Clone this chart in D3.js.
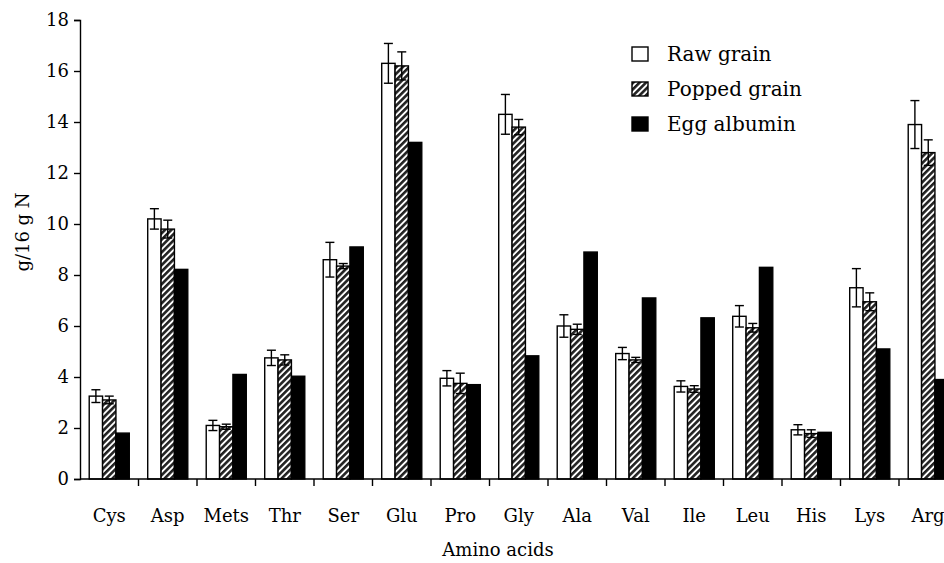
<!DOCTYPE html>
<html>
<head>
<meta charset="utf-8">
<script src="https://cdn.jsdelivr.net/npm/d3@7"></script>
<style>
  body { margin: 0; background: #fff; }
  svg { display: block; }
  svg text { font-family: "DejaVu Serif", "Liberation Serif", serif; fill: #000; }
</style>
</head>
<body>
<div id="chart"></div>
<script>
'use strict';

var categories = ['Cys', 'Asp', 'Mets', 'Thr', 'Ser', 'Glu', 'Pro', 'Gly', 'Ala', 'Val', 'Ile', 'Leu', 'His', 'Lys', 'Arg'];
var seriesNames = ['Raw grain', 'Popped grain', 'Egg albumin'];
var rawGrain    = [3.25, 10.2, 2.1, 4.75, 8.6, 16.3, 3.95, 14.3, 6.0, 4.92, 3.63, 6.38, 1.93, 7.5, 13.9];
var rawErr      = [0.25, 0.4, 0.2, 0.3, 0.68, 0.78, 0.3, 0.78, 0.44, 0.24, 0.22, 0.42, 0.2, 0.75, 0.94];
var poppedGrain = [3.1, 9.8, 2.05, 4.67, 8.35, 16.2, 3.75, 13.8, 5.87, 4.67, 3.53, 5.93, 1.78, 6.95, 12.8];
var poppedErr   = [0.15, 0.35, 0.1, 0.2, 0.1, 0.55, 0.4, 0.3, 0.2, 0.1, 0.13, 0.17, 0.15, 0.35, 0.5];
var eggAlbumin  = [1.8, 8.22, 4.1, 4.03, 9.1, 13.2, 3.7, 4.83, 8.9, 7.1, 6.32, 8.3, 1.83, 5.1, 3.9];
var yTicks = [0, 2, 4, 6, 8, 10, 12, 14, 16, 18];

var width = 944, height = 563;
var fontFam = '"DejaVu Serif", "Liberation Serif", serif';
var svg = d3.select('#chart').append('svg')
  .attr('width', width)
  .attr('height', height)
  .attr('font-family', fontFam);

// hatch pattern for popped grain
var defs = svg.append('defs');
var pat = defs.append('pattern')
  .attr('id', 'hatch')
  .attr('patternUnits', 'userSpaceOnUse')
  .attr('width', 4.5)
  .attr('height', 4.5)
  .attr('patternTransform', 'rotate(45)');
pat.append('rect').attr('width', 4.5).attr('height', 4.5).attr('fill', '#fff');
pat.append('rect').attr('width', 2.6).attr('height', 4.5).attr('fill', '#222');

var x = d3.scaleBand().domain(categories).range([80, 80 + 58.5 * categories.length]).padding(0);
var x1 = d3.scaleBand().domain(seriesNames).range([0, x.bandwidth()]).paddingInner(0).paddingOuter(0.69);
var y = d3.scaleLinear().domain([0, 18]).range([479, 20]);

var fills = { 'Raw grain': '#fff', 'Popped grain': 'url(#hatch)', 'Egg albumin': '#000' };

var rows = categories.map(function(c, i) {
  return {
    cat: c,
    vals: [
      { s: 'Raw grain', v: rawGrain[i], e: rawErr[i] },
      { s: 'Popped grain', v: poppedGrain[i], e: poppedErr[i] },
      { s: 'Egg albumin', v: eggAlbumin[i], e: 0 }
    ]
  };
});

var groups = svg.selectAll('g.grp')
  .data(rows)
  .enter().append('g')
  .attr('class', 'grp')
  .attr('transform', function(d) { return 'translate(' + x(d.cat) + ',0)'; });

groups.selectAll('rect')
  .data(function(d) { return d.vals; })
  .enter().append('rect')
  .attr('x', function(d) { return x1(d.s); })
  .attr('y', function(d) { return y(d.v); })
  .attr('width', x1.bandwidth())
  .attr('height', function(d) { return y(0) - y(d.v); })
  .attr('fill', function(d) { return fills[d.s]; })
  .attr('stroke', '#000')
  .attr('stroke-width', 1.4);

// error bars
var eb = groups.selectAll('g.err')
  .data(function(d) { return d.vals.filter(function(v) { return v.e > 0; }); })
  .enter().append('g')
  .attr('class', 'err')
  .attr('stroke', '#000')
  .attr('stroke-width', 1.4);
eb.append('line')
  .attr('x1', function(d) { return x1(d.s) + x1.bandwidth() / 2; })
  .attr('x2', function(d) { return x1(d.s) + x1.bandwidth() / 2; })
  .attr('y1', function(d) { return y(d.v - d.e); })
  .attr('y2', function(d) { return y(d.v + d.e); });
[1, -1].forEach(function(sg) {
  eb.append('line')
    .attr('x1', function(d) { return x1(d.s) + x1.bandwidth() / 2 - 4.5; })
    .attr('x2', function(d) { return x1(d.s) + x1.bandwidth() / 2 + 4.5; })
    .attr('y1', function(d) { return y(d.v + sg * d.e); })
    .attr('y2', function(d) { return y(d.v + sg * d.e); });
});

// axes
var yAxis = svg.append('g')
  .attr('transform', 'translate(80,0)')
  .call(d3.axisLeft(y).tickValues(yTicks).tickSize(6).tickPadding(5));
yAxis.attr('font-family', fontFam).attr('font-size', 18);
yAxis.select('.domain').attr('stroke-width', 1.4);
yAxis.selectAll('.tick line').attr('stroke-width', 1.4);
yAxis.selectAll('text').attr('fill', '#000');

var xAxis = svg.append('g')
  .attr('transform', 'translate(0,' + y(0) + ')');
xAxis.append('line')
  .attr('x1', 80).attr('x2', x.range()[1])
  .attr('stroke', '#000').attr('stroke-width', 1.4);
xAxis.selectAll('line.tk')
  .data(categories)
  .enter().append('line')
  .attr('class', 'tk')
  .attr('x1', function(d) { return x(d) + x.bandwidth(); })
  .attr('x2', function(d) { return x(d) + x.bandwidth(); })
  .attr('y1', 0).attr('y2', 7)
  .attr('stroke', '#000').attr('stroke-width', 1.4);
xAxis.selectAll('text')
  .data(categories)
  .enter().append('text')
  .attr('x', function(d) { return Math.min(x(d) + x.bandwidth() / 2, width - 16); })
  .attr('y', 43)
  .attr('text-anchor', 'middle')
  .attr('font-size', 18)
  .text(function(d) { return d; });

svg.append('text')
  .attr('x', 498).attr('y', 556)
  .attr('text-anchor', 'middle')
  .attr('font-size', 18)
  .text('Amino acids');

svg.append('text')
  .attr('transform', 'translate(29,232) rotate(-90)')
  .attr('text-anchor', 'middle')
  .attr('font-size', 18)
  .text('g/16 g N');

// legend
var legend = svg.append('g').attr('transform', 'translate(632,47)');
var li = legend.selectAll('g')
  .data(seriesNames)
  .enter().append('g')
  .attr('transform', function(d, i) { return 'translate(0,' + i * 35 + ')'; });
li.append('rect')
  .attr('width', 16).attr('height', 14)
  .attr('fill', function(d) { return fills[d]; })
  .attr('stroke', '#000').attr('stroke-width', 1.4);
li.append('text')
  .attr('x', 35).attr('y', 14)
  .attr('font-size', 20)
  .text(function(d) { return d; });
</script>
</body>
</html>
